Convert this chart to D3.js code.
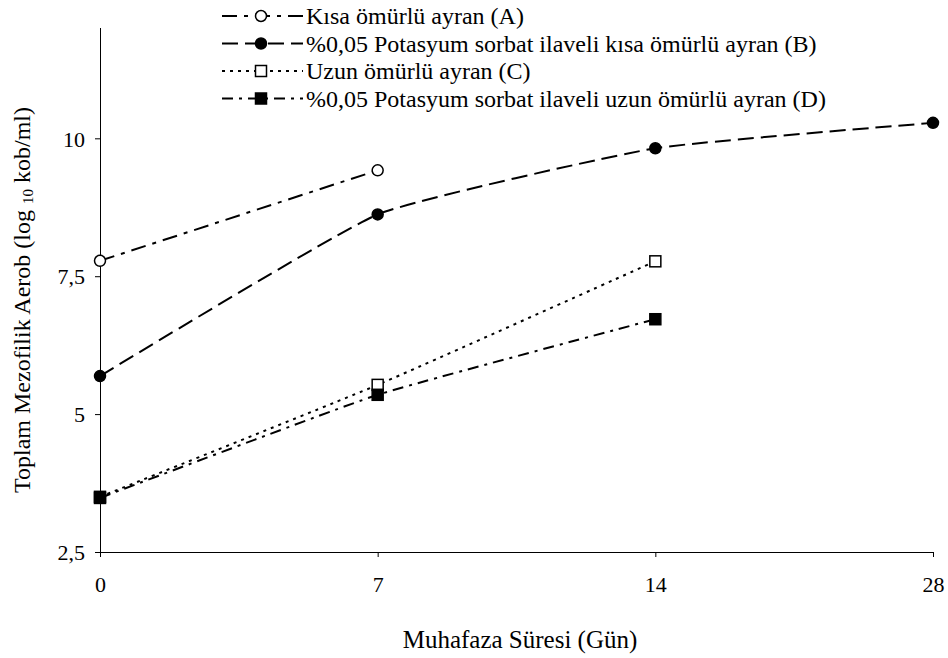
<!DOCTYPE html>
<html>
<head>
<meta charset="utf-8">
<script src="https://cdn.jsdelivr.net/npm/d3@7"></script>
<style>
  body { margin: 0; background: #fff; }
</style>
</head>
<body>
<div id="chart"></div>
<script>
// storage days (categorical on the axis)
var days = ["0", "7", "14", "28"];
var yTicks = [2.5, 5, 7.5, 10];

// log10 kob/ml values
var seriesA = [7.78, 9.42, null, null];
var seriesB = [5.69, 8.62, 9.82, 10.28];
var seriesC = [3.50, 5.53, 7.77, null];
var seriesD = [3.48, 5.35, 6.72, null];

var names = [
  "Kısa ömürlü ayran (A)",
  "%0,05 Potasyum sorbat ilaveli kısa ömürlü ayran (B)",
  "Uzun ömürlü ayran (C)",
  "%0,05 Potasyum sorbat ilaveli uzun ömürlü ayran (D)"
];

var FONT = "'Liberation Serif', 'Times New Roman', Tinos, 'DejaVu Serif', serif";
var W = 948, H = 658;
var svg = d3.select("#chart").append("svg").attr("width", W).attr("height", H)
  .attr("font-family", FONT);

var x = d3.scalePoint().domain(days).range([100, 933]).padding(0);
var y = d3.scaleLinear().domain([2.5, 12]).range([552, 28]);

// series styling
var styles = [
  {values: seriesA, dash: "15,7,4,7", marker: "circle", fill: "#fff"},
  {values: seriesB, dash: "16,7", marker: "circle", fill: "#000"},
  {values: seriesC, dash: "3,5", marker: "square", fill: "#fff"},
  {values: seriesD, dash: "11,6,3,6", marker: "square", fill: "#000"}
];

// axes
var yAxis = d3.axisLeft(y).tickValues(yTicks).tickSize(5).tickSizeOuter(0)
  .tickFormat(function(d) { return String(d).replace(".", ","); });
var gy = svg.append("g").attr("transform", "translate(100,0)").call(yAxis);
gy.select(".domain").attr("d", "M0.5," + y(12) + "V" + y(2.5));

var xAxis = d3.axisBottom(x).tickSize(5).tickSizeOuter(0);
var gx = svg.append("g").attr("transform", "translate(0,552)").call(xAxis);

svg.selectAll(".domain, .tick line").attr("stroke", "#000").attr("stroke-width", 1);
gy.attr("font-family", FONT).attr("font-size", 22);
gx.attr("font-family", FONT).attr("font-size", 22);
gy.selectAll(".tick text").attr("x", -15).attr("dy", "0.35em");
gx.selectAll(".tick text").attr("y", 24).attr("dy", "0.71em");

// axis titles
svg.append("text").attr("x", 520).attr("y", 648).attr("text-anchor", "middle")
  .attr("font-size", 25).text("Muhafaza Süresi (Gün)");

var yt = svg.append("text").attr("transform", "translate(30,300) rotate(-90)")
  .attr("text-anchor", "middle").attr("font-size", 24);
yt.append("tspan").text("Toplam Mezofilik Aerob (log ");
yt.append("tspan").attr("font-size", 15).attr("dy", 3).text("10");
yt.append("tspan").attr("dy", -3).text(" kob/ml)");

// lines
var line = d3.line()
  .defined(function(d) { return d.v != null; })
  .x(function(d) { return x(d.day); })
  .y(function(d) { return y(d.v); })
  .curve(d3.curveCardinal.tension(0.6));

function drawMarker(g, s, cx, cy) {
  if (s.marker === "circle") {
    g.append("circle").attr("cx", cx).attr("cy", cy).attr("r", 5.5)
      .attr("fill", s.fill).attr("stroke", "#000").attr("stroke-width", 1.5);
  } else {
    var h = 5.5;
    g.append("rect").attr("x", cx - h).attr("y", cy - h).attr("width", 2 * h).attr("height", 2 * h)
      .attr("fill", s.fill).attr("stroke", "#000").attr("stroke-width", 1.5);
  }
}

styles.forEach(function(s) {
  var pts = days.map(function(d, i) { return {day: d, v: s.values[i]}; });
  svg.append("path").datum(pts.filter(function(p) { return p.v != null; }))
    .attr("d", line).attr("fill", "none").attr("stroke", "#000")
    .attr("stroke-width", 2).attr("stroke-dasharray", s.dash);
  var g = svg.append("g");
  pts.forEach(function(p) {
    if (p.v != null) drawMarker(g, s, x(p.day), y(p.v));
  });
});

// legend
var legend = svg.append("g");
names.forEach(function(n, i) {
  var ly = 16 + i * 27.5;
  var s = styles[i];
  legend.append("line").attr("x1", 222).attr("x2", 303).attr("y1", ly).attr("y2", ly)
    .attr("stroke", "#000").attr("stroke-width", 2).attr("stroke-dasharray", s.dash);
  drawMarker(legend, s, 261, ly);
  legend.append("text").attr("x", 306).attr("y", ly).attr("dy", "0.35em")
    .attr("font-size", 24).text(n);
});
</script>
</body>
</html>
